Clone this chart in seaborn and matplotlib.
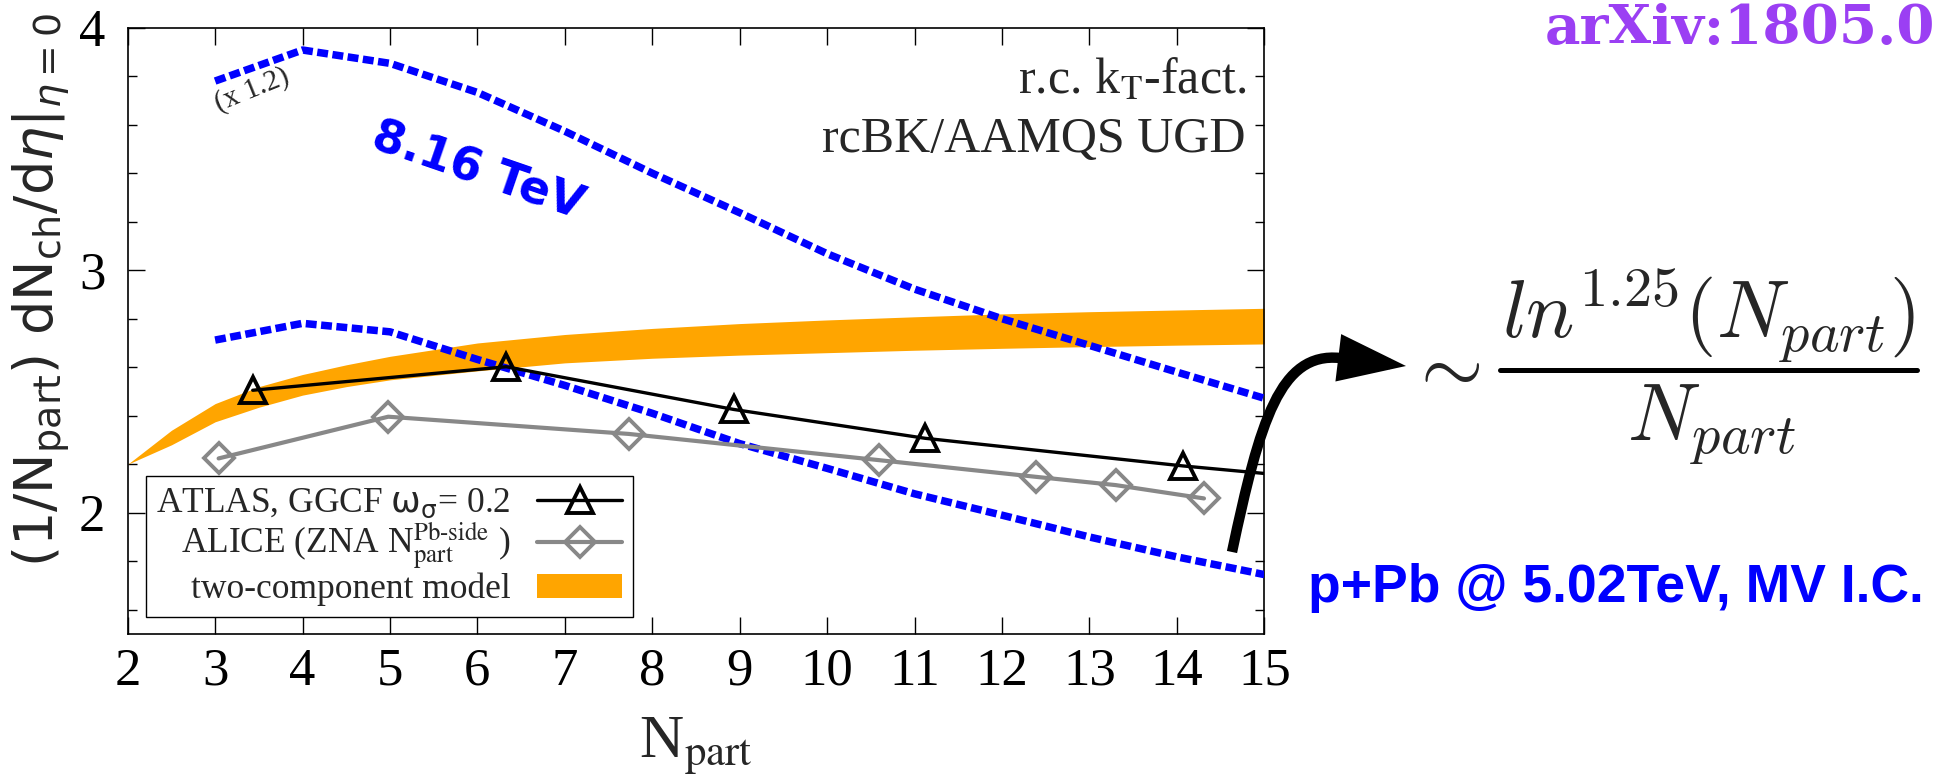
import numpy as np
import pandas as pd
import matplotlib
matplotlib.use("Agg")
import matplotlib.pyplot as plt
import seaborn as sns
from matplotlib.path import Path
from matplotlib.patches import FancyArrowPatch, Patch
from matplotlib.lines import Line2D
from matplotlib.ticker import MultipleLocator

# ---------------- data ----------------
# rcBK / k_T-factorisation predictions at integer N_part
npart_grid = [3, 4, 5, 6, 7, 8, 9, 10, 11, 12, 13, 14, 15]
rcbk_816 = [3.78, 3.908, 3.853, 3.733, 3.573, 3.40, 3.237, 3.068, 2.922, 2.80, 2.69, 2.58, 2.472]  # scaled x 1.2
rcbk_502 = [2.712, 2.781, 2.746, 2.632, 2.525, 2.41, 2.285, 2.183, 2.078, 1.99, 1.90, 1.818, 1.745]

# ATLAS, GGCF omega_sigma = 0.2 (last entry: curve end at N_part = 15)
atlas_npart = [3.43, 6.33, 8.93, 11.12, 14.07, 15.0]
atlas_val = [2.505, 2.602, 2.426, 2.307, 2.193, 2.162]
atlas_n_markers = 5

# ALICE, ZNA N_part^{Pb-side}
alice_npart = [3.04, 4.98, 7.73, 10.59, 12.39, 13.30, 14.31]
alice_val = [2.224, 2.396, 2.325, 2.217, 2.148, 2.114, 2.059]

# two-component model band
band_npart = [2, 2.5, 3, 3.5, 4, 4.5, 5, 6, 7, 8, 9, 10, 11, 12, 13, 14, 15]
band_hi = [2.20, 2.34, 2.45, 2.52, 2.57, 2.61, 2.645, 2.70, 2.735, 2.76, 2.78, 2.795, 2.808, 2.82, 2.829, 2.836, 2.843]
band_lo = [2.20, 2.28, 2.375, 2.435, 2.485, 2.52, 2.548, 2.585, 2.618, 2.637, 2.65, 2.66, 2.67, 2.678, 2.685, 2.691, 2.696]

x_ticks = list(range(2, 16))
y_ticks = [2, 3, 4]

# ---------------- style ----------------
sns.set_style("ticks")
plt.rcParams["font.family"] = ["Liberation Serif", "DejaVu Serif"]
plt.rcParams["mathtext.fontset"] = "stix"
plt.rcParams["axes.linewidth"] = 1.2
plt.rcParams["axes.edgecolor"] = "black"

W, H = 1935, 781
fig = plt.figure(figsize=(W / 100, H / 100), dpi=100)
ax = fig.add_axes([127.7 / W, 1 - 634 / H, (1264.3 - 127.7) / W, 606.3 / H])


def fxy(x, y):
    return x / W, 1 - y / H


ORANGE = "#FFA500"
BLUE = "#0000FF"
GREY = "#888888"

band = pd.DataFrame({"npart": band_npart, "lo": band_lo, "hi": band_hi})
ax.fill_between(band["npart"], band["lo"], band["hi"], color=ORANGE, lw=0, zorder=1)

curves = pd.DataFrame({"npart": npart_grid, "e816": rcbk_816, "e502": rcbk_502})
for col in ["e816", "e502"]:
    sns.lineplot(data=curves, x="npart", y=col, ax=ax, color=BLUE, lw=5.4,
                 estimator=None, zorder=3, linestyle=(0, (1.45, 0.6)),
                 dash_capstyle="butt")

atlas = pd.DataFrame({"npart": atlas_npart, "val": atlas_val})
sns.lineplot(data=atlas, x="npart", y="val", ax=ax, color="black", lw=2.4,
             estimator=None, marker="^", markevery=list(range(atlas_n_markers)),
             ms=19, mfc="none", mec="black", mew=2.8, zorder=4)

alice = pd.DataFrame({"npart": alice_npart, "val": alice_val})
sns.lineplot(data=alice, x="npart", y="val", ax=ax, color=GREY, lw=3.0,
             estimator=None, marker="D", ms=15, mfc="none", mec=GREY, mew=2.8,
             zorder=4)

# ---------------- axes ----------------
ax.set_xlim(2, 15)
ax.set_ylim(1.5, 4)
ax.set_xticks(x_ticks)
ax.set_yticks(y_ticks)
ax.yaxis.set_minor_locator(MultipleLocator(0.2))
ax.tick_params(which="both", direction="in", top=True, right=True,
               width=1.0, colors="black", labelsize=38)
ax.tick_params(axis="x", which="major", length=12.5, pad=10)
ax.tick_params(axis="y", which="major", length=12.5, pad=16)
ax.tick_params(axis="y", which="minor", length=6.5)
for lab in ax.get_xticklabels() + ax.get_yticklabels():
    lab.set_fontfamily(["Liberation Serif"])

ax.set_xlabel(r"N$_\mathrm{part}$", fontsize=44)
ax.xaxis.set_label_coords(0.5, -(758 - 634) / 606.3)
ax.xaxis.label.set_va("baseline")

ax.set_ylabel(r"(1/N$_\mathrm{part}$) dN$_\mathrm{ch}$/d$\eta$|$_{\eta=0}$",
              fontsize=39, family=["DejaVu Sans"], math_fontfamily="dejavusans")
ax.yaxis.set_label_coords((42 - 127.7) / 1136.6, (634 - 290) / 606.3)
ax.yaxis.label.set_va("center")

# ---------------- legend ----------------
h_atlas = Line2D([], [], color="black", lw=2.4, marker="^", ms=19, mfc="none",
                 mec="black", mew=2.8)
h_alice = Line2D([], [], color=GREY, lw=3.0, marker="D", ms=15, mfc="none",
                 mec=GREY, mew=2.8)
h_band = Patch(facecolor=ORANGE, edgecolor="none")
leg = ax.legend([h_atlas, h_alice, h_band],
                [r"ATLAS, GGCF $\mathrm{\omega}_\mathrm{\sigma}$= 0.2",
                 r"ALICE (ZNA N$_\mathrm{part}^\mathrm{Pb‐side}$ )",
                 "two-component model"],
                loc="lower left", bbox_to_anchor=((145.5 - 127.7) / 1136.6, (634 - 617) / 606.3),
                borderaxespad=0, markerfirst=False, fontsize=25.5, frameon=True,
                fancybox=False, framealpha=1, edgecolor="black",
                handlelength=2.4, handletextpad=0.75, borderpad=0.3,
                labelspacing=0.02)
leg.get_frame().set_linewidth(1.0)
leg.get_texts()[0].set_math_fontfamily("dejavusans")
for col in leg._legend_handle_box.get_children():
    col.align = "right"

# ---------------- annotations ----------------
fig.text(*fxy(1246, 93), r"r.c. k$_\mathrm{T}$-fact.", fontsize=36,
         ha="right", va="baseline")
fig.text(*fxy(1246, 152), "rcBK/AAMQS UGD", fontsize=36, ha="right", va="baseline")

fig.text(*fxy(478, 172), "8.16 TeV", fontsize=33, color=BLUE, weight="bold",
         family=["DejaVu Sans"], rotation=-19, rotation_mode="anchor",
         ha="center", va="center")
fig.text(*fxy(252, 90), "(x 1.2)", fontsize=21, rotation=22,
         rotation_mode="anchor", ha="center", va="center")

fig.text(*fxy(1308, 602), "p+Pb @ 5.02TeV, MV I.C.", fontsize=38.5, color=BLUE,
         weight="bold", family=["Liberation Sans"], ha="left", va="baseline")

fig.text(*fxy(1545, 44), "arXiv:1805.02", fontsize=39.5, color="#9B3FF3",
         weight="bold", family=["DejaVu Serif"], ha="left", va="baseline")

# ln^1.25(N_part)/N_part scaling
fig.text(*fxy(1443, 372), r"$\sim$", fontsize=58, math_fontfamily="cm",
         ha="center", va="center")
fig.text(*fxy(1709, 338), r"$ln^{1.25}(N_{part})$", fontsize=58,
         math_fontfamily="cm", ha="center", va="baseline")
fig.text(*fxy(1711, 440), r"$N_{part}$", fontsize=58, math_fontfamily="cm",
         ha="center", va="baseline")
fig.add_artist(Line2D([1500 / W, 1917 / W], [1 - 370 / H, 1 - 370 / H],
                      color="black", lw=3.6, transform=fig.transFigure))

# curved arrow towards the scaling law
pts = [(1232, 552), (1260, 420), (1280, 352), (1340, 358), (1406, 366)]
codes = [Path.MOVETO, Path.CURVE4, Path.CURVE4, Path.CURVE4, Path.LINETO]
arrow_path = Path([fxy(*p) for p in pts], codes)
arrow = FancyArrowPatch(path=arrow_path, arrowstyle="-|>,head_length=1.0,head_width=0.35",
                        mutation_scale=34, lw=7.5, color="black",
                        transform=fig.transFigure, joinstyle="miter", capstyle="butt")
fig.add_artist(arrow)

fig.savefig("out.png", dpi=100)
